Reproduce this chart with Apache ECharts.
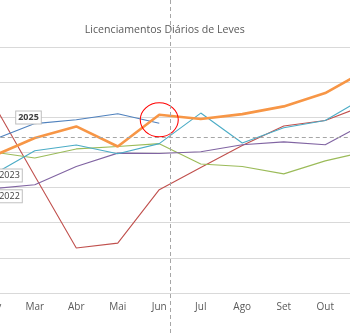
<!DOCTYPE html>
<html><head><meta charset="utf-8">
<script src="https://cdn.jsdelivr.net/npm/echarts@6/dist/echarts.min.js"></script>
<style>
html,body{margin:0;padding:0;overflow:hidden;width:350px;height:334px;background:#fff}
#c{position:absolute;left:-60px;top:0;width:480px;height:334px}
</style>
</head><body><div id="c"></div>
<script>
// ---- data (Jan/Dez and later 2025 months are not visible) ----
const months = ['Jan','Fev','Mar','Abr','Mai','Jun','Jul','Ago','Set','Out','Nov','Dez'];
const y2025 = [null, 636, 682, 693, 710, 683, null, null, null, null, null, null];
const y2024 = [null, 590, 641, 674, 617, 707, 695, 709, 731, 769, 835, null];
const y2023 = [null, 537, 605, 621, 596, 625, 712, 627, 670, 691, 760, null];
const y2022 = [null, 497, 508, 560, 598, 597, 602, 622, 630, 622, 685, null];
const y2021 = [null, 601, 584, 610, 617, 625, 567, 560, 539, 576, 603, null];
const y2020 = [null, 740, 533, 328, 342, 494, 557, 620, 675, 691, 736, null];
const referenceLevel = 643;     // horizontal dashed reference line
const todayPos = 0.26;          // fraction of the way from Jun to Jul (vertical dashed marker)
const highlight = {month: 'Jun', value: 707};
const yTicks = {min: 200, max: 900, interval: 100};
const titleText = 'Licenciamentos Diários de Leves';

const chart = echarts.init(document.getElementById('c'), null, {renderer: 'canvas'});
const font = '"Open Sans", "Noto Sans", sans-serif';
const thin = (name, data, color) => ({
  name, type: 'line', data, symbol: 'none', connectNulls: false,
  lineStyle: {width: 1.1, color}, itemStyle: {color}, animation: false
});
const series = [
  thin('2020', y2020, '#C0504D'),
  thin('2021', y2021, '#9BBB59'),
  thin('2022', y2022, '#8064A2'),
  thin('2023', y2023, '#4BACC6'),
  Object.assign(thin('2025', y2025, '#4F81BD'), {
    markLine: {silent: true, symbol: 'none', animation: false, label: {show: false},
      lineStyle: {type: [4, 3], color: '#a6a6a6', width: 1},
      data: [{yAxis: referenceLevel}]}
  }),
  {
    name: '2024', type: 'line', data: y2024, symbol: 'none', animation: false,
    lineStyle: {width: 2.6, color: '#F79646'}, itemStyle: {color: '#F79646'},
    markPoint: {animation: false, silent: true,
      symbol: 'circle', symbolSize: [38, 34], symbolOffset: [0, 5],
      itemStyle: {color: 'rgba(0,0,0,0)', borderColor: '#ff0000', borderWidth: 1},
      label: {show: false},
      data: [{coord: [highlight.month, highlight.value]}]}
  }
];

chart.setOption({
  animation: false,
  backgroundColor: '#ffffff',
  grid: {left: 11.8, right: 10.6, top: 47, bottom: 41, containLabel: false},
  xAxis: {
    type: 'category', data: months, boundaryGap: false,
    axisLine: {lineStyle: {color: '#d9d9d9'}},
    axisTick: {show: false},
    axisLabel: {interval: 0, color: '#595959', fontSize: 10, fontFamily: font, margin: 9},
    splitLine: {show: false}
  },
  yAxis: {
    type: 'value', min: yTicks.min, max: yTicks.max, interval: yTicks.interval,
    axisLine: {show: false}, axisTick: {show: false}, axisLabel: {show: false},
    splitLine: {lineStyle: {color: '#d9d9d9', width: 1}}
  },
  series
});

// decorations tied to the axes
const xJun = chart.convertToPixel({xAxisIndex: 0}, 'Jun');
const xJul = chart.convertToPixel({xAxisIndex: 0}, 'Jul');
const xToday = xJun + todayPos * (xJul - xJun);
const labelStyle = (text, bold) => ({
  text, fill: '#404040', font: (bold ? 'bold ' : '') + '9px ' + font,
  backgroundColor: '#ffffff', borderColor: '#bfbfbf', borderWidth: 1,
  padding: [2, 2, 1, 2], align: 'center', verticalAlign: 'middle'
});
chart.setOption({
  graphic: [
    {type: 'line', silent: true, z: 100,
      shape: {x1: Math.round(xToday) + 0.5, y1: 0, x2: Math.round(xToday) + 0.5, y2: 334},
      style: {stroke: '#a6a6a6', lineWidth: 1, lineDash: [4, 3]}},
    {type: 'text', silent: true, z: 90, x: 224.8, y: 30,
      style: {text: titleText, fill: '#595959', font: '10.6px ' + font, align: 'center', verticalAlign: 'middle'}},
    {type: 'text', silent: true, z: 95, x: 88.5, y: 117.5, style: labelStyle('2025', true)},
    {type: 'text', silent: true, z: 95, x: 69.5, y: 175.5, style: labelStyle('2023', false)},
    {type: 'text', silent: true, z: 95, x: 69.5, y: 196.3, style: labelStyle('2022', false)}
  ]
});
</script>
</body></html>
